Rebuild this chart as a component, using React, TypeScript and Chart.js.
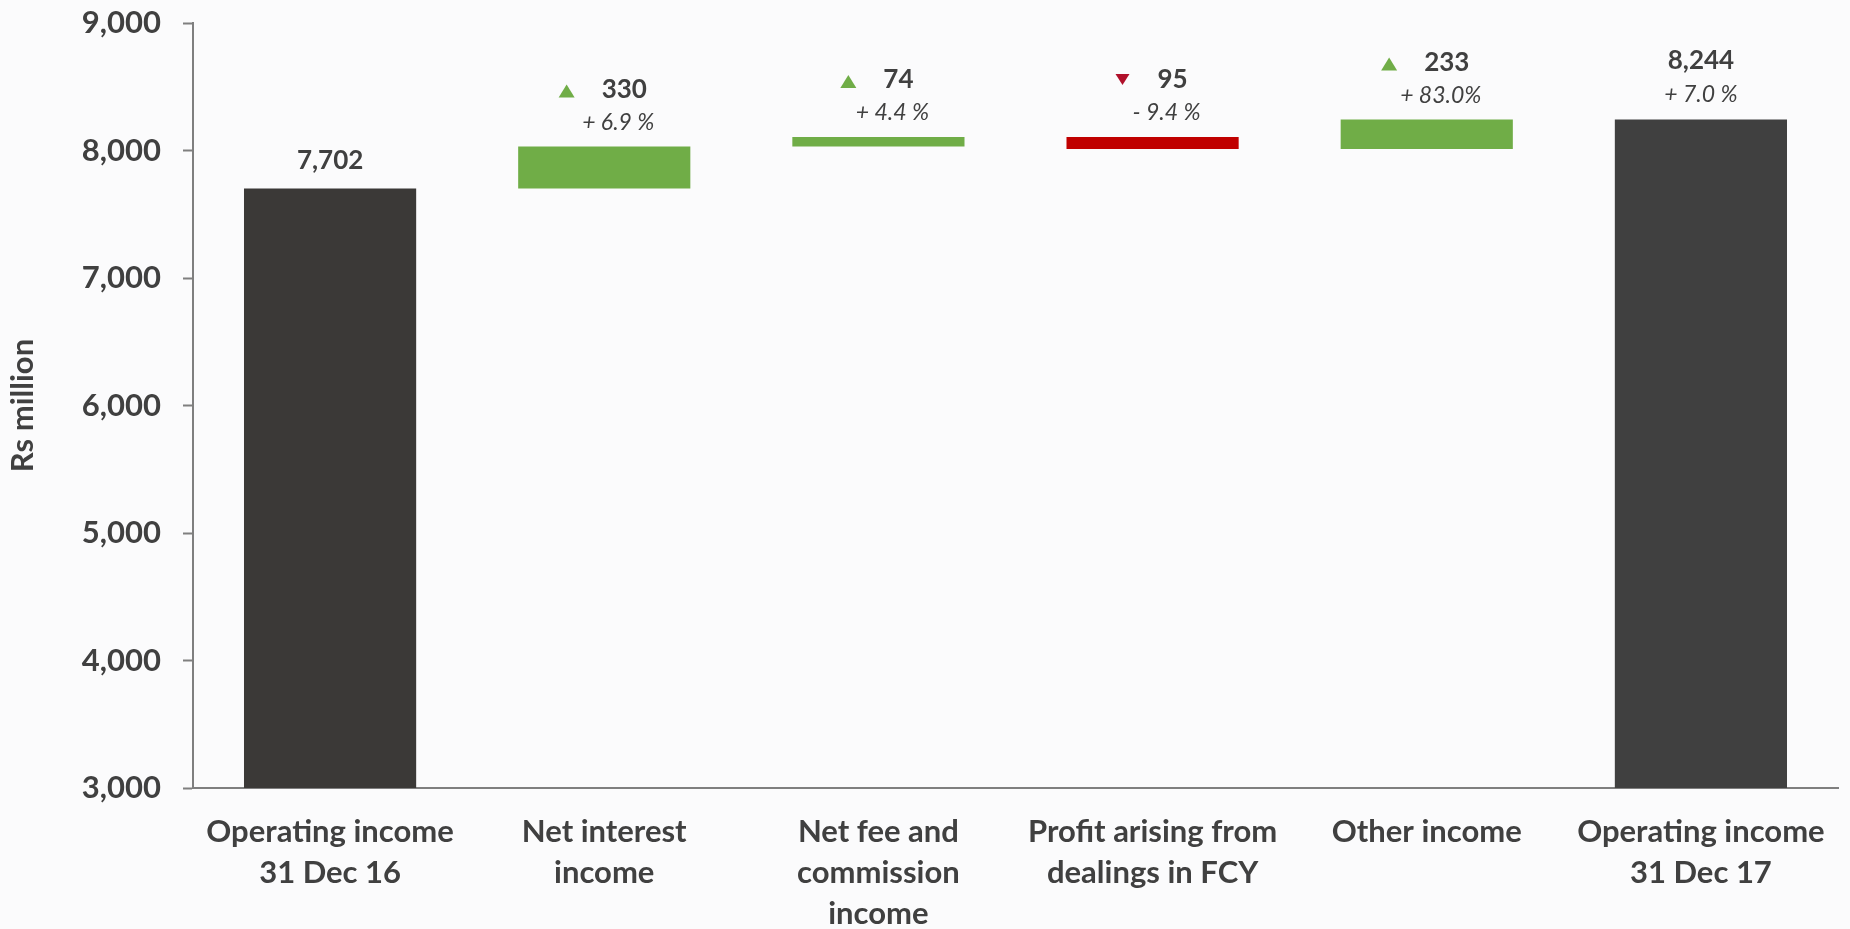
import React, { useEffect, useRef } from "react";
import { Chart, registerables } from "chart.js";

Chart.register(...registerables);

const categories: string[][] = [
  ["Operating income", "31 Dec 16"],
  ["Net interest", "income"],
  ["Net fee and", "commission", "income"],
  ["Profit arising from", "dealings in FCY"],
  ["Other income"],
  ["Operating income", "31 Dec 17"],
];
const startValue = 7702;
const changes = [330, 74, -95, 233];
const endValue = 8244;
const percentLabels = ["", "+ 6.9 %", "+ 4.4 %", "- 9.4 %", "+ 83.0%", "+ 7.0 %"];
const barColors = ["#3b3937", "#70ad47", "#70ad47", "#c00000", "#70ad47", "#404040"];
const axisMin = 3000;
const axisMax = 9000;
const axisStep = 1000;
const yTitle = "Rs million";

const fmt = (v: number) => v.toLocaleString("en-US");

function buildRanges(): number[][] {
  const r: number[][] = [[axisMin, startValue]];
  let run = startValue;
  for (const c of changes) {
    const next = run + c;
    r.push([Math.min(run, next), Math.max(run, next)]);
    run = next;
  }
  r.push([axisMin, endValue]);
  return r;
}

const valueLabels = [fmt(startValue), ...changes.map((c) => fmt(Math.abs(c))), fmt(endValue)];
const TEXT = "#404040";

const annotPlugin = {
  id: "annot",
  afterDatasetsDraw(chart: any) {
    const ctx = chart.ctx as CanvasRenderingContext2D;
    const meta = chart.getDatasetMeta(0);
    const n = meta.data.length;
    meta.data.forEach((bar: any, i: number) => {
      const { x, y, base } = bar.getProps(["x", "y", "base"], true);
      const top = Math.min(y, base);
      ctx.save();
      ctx.fillStyle = TEXT;
      ctx.textBaseline = "middle";
      ctx.textAlign = "center";
      ctx.font = "bold 26px Lato";
      if (i === 0) {
        ctx.fillText(valueLabels[i], x, top - 28);
      } else if (i === n - 1) {
        ctx.fillText(valueLabels[i], x, top - 59);
        ctx.font = "italic 23px Lato";
        ctx.fillText(percentLabels[i], x, top - 25);
      } else {
        const vx = x + 20;
        const vy = top - 57;
        ctx.fillText(valueLabels[i], vx, vy);
        const w = ctx.measureText(valueLabels[i]).width;
        const tx = vx - w / 2 - 35;
        const up = changes[i - 1] >= 0;
        ctx.beginPath();
        if (up) {
          ctx.fillStyle = "#70ad47";
          ctx.moveTo(tx - 8, vy + 8);
          ctx.lineTo(tx + 8, vy + 8);
          ctx.lineTo(tx, vy - 5);
        } else {
          ctx.fillStyle = "#b0102a";
          ctx.moveTo(tx - 7, vy - 6);
          ctx.lineTo(tx + 7, vy - 6);
          ctx.lineTo(tx, vy + 5);
        }
        ctx.closePath();
        ctx.fill();
        ctx.fillStyle = TEXT;
        ctx.font = "italic 23px Lato";
        ctx.fillText(percentLabels[i], x + 14, top - 24);
      }
      ctx.restore();
    });
  },
};

export default function App() {
  const ref = useRef<HTMLCanvasElement | null>(null);
  useEffect(() => {
    if (!ref.current) return;
    const chart = new Chart(ref.current, {
      type: "bar",
      data: {
        labels: categories as any,
        datasets: [
          {
            data: buildRanges() as any,
            backgroundColor: barColors,
            borderWidth: 0,
            barPercentage: 0.628,
            categoryPercentage: 1,
          },
        ],
      },
      options: {
        animation: false,
        responsive: true,
        maintainAspectRatio: false,
        layout: { padding: { top: 23, right: 12, left: 0, bottom: 0 } },
        plugins: {
          legend: { display: false },
          tooltip: { enabled: false },
        },
        scales: {
          x: {
            grid: { display: false, drawTicks: false },
            border: { display: true, color: "#7f7f7f", width: 2 },
            ticks: {
              color: TEXT,
              font: { family: "Lato", size: 31, weight: "bold", lineHeight: 1.32 },
              padding: 24,
              maxRotation: 0,
              autoSkip: false,
            },
            afterFit: (s: any) => {
              s.height = 141;
              s.paddingLeft = 0;
              s.paddingRight = 0;
            },
          },
          y: {
            min: axisMin,
            max: axisMax,
            grid: {
              drawOnChartArea: false,
              drawTicks: true,
              tickLength: 10,
              tickColor: "#7f7f7f",
              tickWidth: 2,
            },
            border: { display: true, color: "#7f7f7f", width: 2 },
            ticks: {
              stepSize: axisStep,
              color: TEXT,
              font: { family: "Lato", size: 31, weight: "bold" },
              padding: 22,
              callback: (v: any) => fmt(Number(v)),
            },
            title: {
              display: true,
              text: yTitle,
              color: TEXT,
              font: { family: "Lato", size: 31, weight: "bold" },
              padding: { top: 4, bottom: 0 },
            },
            afterFit: (s: any) => {
              s.width = 193;
              s.paddingTop = 0;
              s.paddingBottom = 0;
            },
          },
        },
      },
      plugins: [annotPlugin],
    });
    return () => chart.destroy();
  }, []);
  return (
    <div style={{ position: "absolute", left: 0, top: 0, width: 1850, height: 929, background: "#fbfbfc" }}>
      <canvas ref={ref} />
    </div>
  );
}
